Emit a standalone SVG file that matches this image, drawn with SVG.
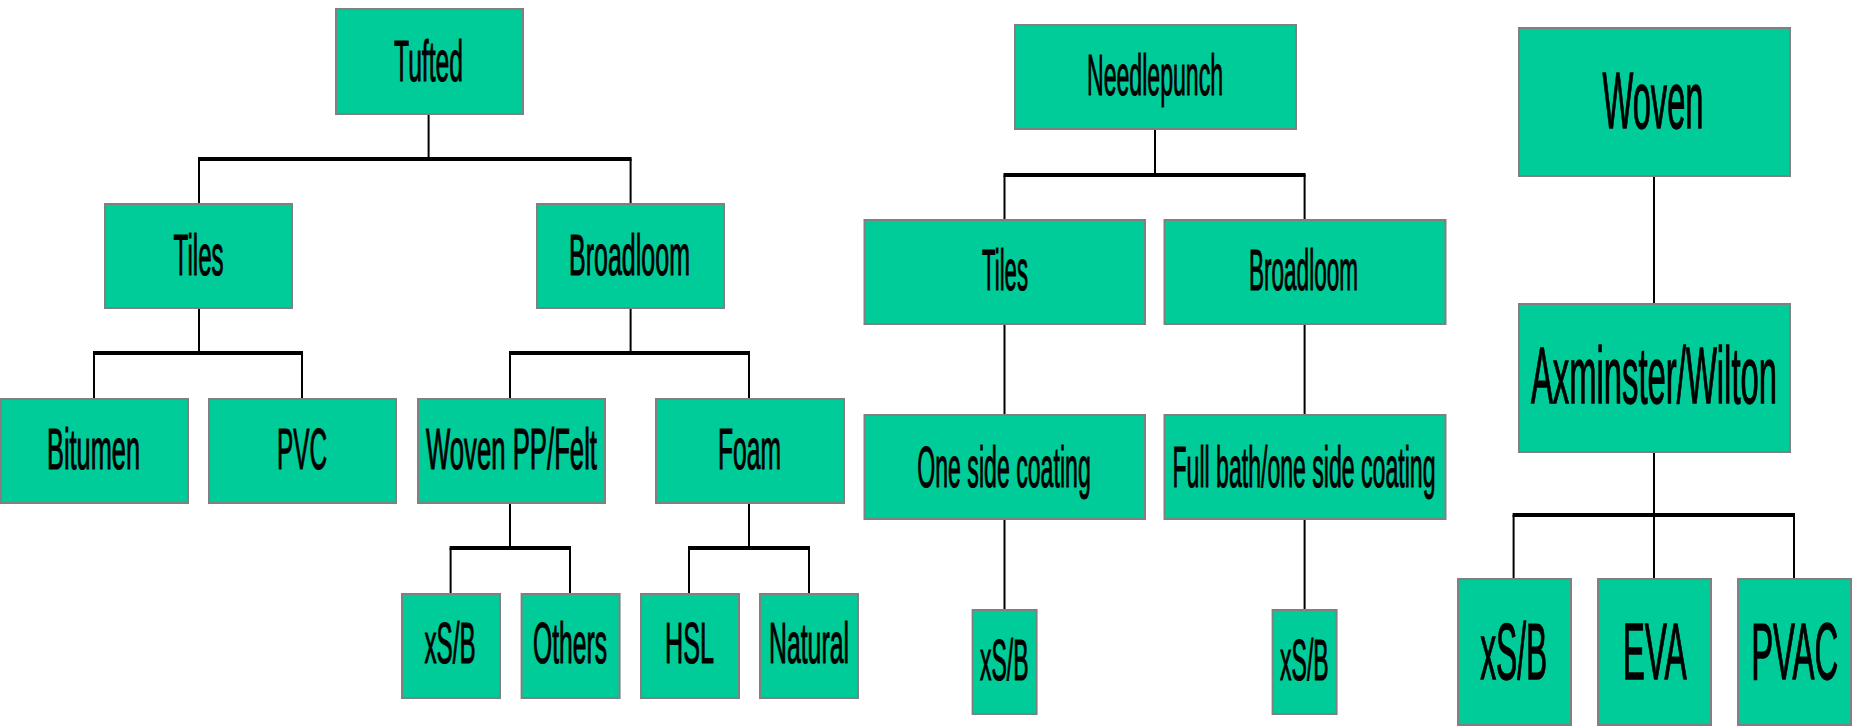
<svg xmlns="http://www.w3.org/2000/svg" width="1855" height="726" viewBox="0 0 1855 726">
<style>
.box{fill:#00CC99;stroke:#808080;stroke-width:2}
.t,.tl{font-family:"Liberation Sans Narrow","Liberation Sans",Arial,sans-serif;fill:#000;stroke:#000;stroke-width:1.1;text-anchor:middle}
.t{font-size:57px}
.tl{font-size:79px;stroke-width:1.3}
.c line{stroke:#000;stroke-width:2}
.c .bar{stroke-width:4}
.bd line{stroke:#808080;stroke-width:2}
</style>
<rect width="1855" height="726" fill="#fff"/>
<g class="c" id="connectors">
<line x1="428.6" y1="115" x2="428.6" y2="159"/>
<line class="bar" x1="198" y1="159" x2="631.6" y2="159"/>
<line x1="199" y1="159" x2="199" y2="203"/>
<line x1="630.6" y1="159" x2="630.6" y2="203"/>
<line x1="199" y1="309" x2="199" y2="353"/>
<line class="bar" x1="93" y1="353" x2="303" y2="353"/>
<line x1="94" y1="353" x2="94" y2="398"/>
<line x1="302" y1="353" x2="302" y2="398"/>
<line x1="630.6" y1="309" x2="630.6" y2="353"/>
<line class="bar" x1="509" y1="353" x2="750" y2="353"/>
<line x1="510" y1="353" x2="510" y2="398"/>
<line x1="749" y1="353" x2="749" y2="398"/>
<line x1="510" y1="504" x2="510" y2="548"/>
<line class="bar" x1="449.6" y1="548" x2="571" y2="548"/>
<line x1="450.6" y1="548" x2="450.6" y2="593"/>
<line x1="570" y1="548" x2="570" y2="593"/>
<line x1="749" y1="504" x2="749" y2="548"/>
<line class="bar" x1="688" y1="548" x2="810" y2="548"/>
<line x1="689" y1="548" x2="689" y2="593"/>
<line x1="809" y1="548" x2="809" y2="593"/>
<line x1="1155" y1="130" x2="1155" y2="175"/>
<line class="bar" x1="1003.5" y1="175" x2="1305.6" y2="175"/>
<line x1="1004.5" y1="175" x2="1004.5" y2="219"/>
<line x1="1304.6" y1="175" x2="1304.6" y2="219"/>
<line x1="1004.5" y1="325" x2="1004.5" y2="414"/>
<line x1="1004.5" y1="520" x2="1004.5" y2="609"/>
<line x1="1304.6" y1="325" x2="1304.6" y2="414"/>
<line x1="1304.6" y1="520" x2="1304.6" y2="609"/>
<line x1="1654" y1="177" x2="1654" y2="303"/>
<line x1="1654" y1="453" x2="1654" y2="515"/>
<line class="bar" x1="1512.6" y1="515" x2="1795" y2="515"/>
<line x1="1513.6" y1="515" x2="1513.6" y2="578"/>
<line x1="1654" y1="515" x2="1654" y2="578"/>
<line x1="1794" y1="515" x2="1794" y2="578"/>
</g>
<g id="tufted"><rect class="box" x="336" y="9" width="187" height="105"/><text class="t" x="428.5" y="80.5" textLength="69" lengthAdjust="spacingAndGlyphs">Tufted</text></g>
<g id="tiles-t"><rect class="box" x="105" y="204" width="187" height="104"/><text class="t" x="198.6" y="275" textLength="50" lengthAdjust="spacingAndGlyphs">Tiles</text></g>
<g id="broadloom-t"><rect class="box" x="537" y="204" width="187" height="104"/><text class="t" x="629.5" y="275" textLength="121" lengthAdjust="spacingAndGlyphs">Broadloom</text></g>
<g id="bitumen"><rect class="box" x="1" y="399" width="187" height="104"/><text class="t" x="93.5" y="469" textLength="93" lengthAdjust="spacingAndGlyphs">Bitumen</text></g>
<g id="pvc"><rect class="box" x="209" y="399" width="187" height="104"/><text class="t" x="302" y="469" textLength="50" lengthAdjust="spacingAndGlyphs">PVC</text></g>
<g id="wovenpp"><rect class="box" x="418" y="399" width="187" height="104"/><text class="t" x="511.5" y="469" textLength="171" lengthAdjust="spacingAndGlyphs">Woven PP/Felt</text></g>
<g id="foam"><rect class="box" x="656" y="399" width="188" height="104"/><text class="t" x="749.5" y="469" textLength="63" lengthAdjust="spacingAndGlyphs">Foam</text></g>
<g id="xsb-1"><rect class="box" x="402" y="594" width="98" height="104"/><text class="t" x="450" y="663" textLength="51" lengthAdjust="spacingAndGlyphs">xS/B</text></g>
<g id="others"><rect class="box" x="521.6" y="594" width="98" height="104"/><text class="t" x="570" y="663" textLength="74" lengthAdjust="spacingAndGlyphs">Others</text></g>
<g id="hsl"><rect class="box" x="641" y="594" width="98" height="104"/><text class="t" x="689.5" y="663" textLength="49" lengthAdjust="spacingAndGlyphs">HSL</text></g>
<g id="natural"><rect class="box" x="760" y="594" width="98" height="104"/><text class="t" x="809" y="663" textLength="80" lengthAdjust="spacingAndGlyphs">Natural</text></g>
<g id="needlepunch"><rect class="box" x="1015" y="25" width="281" height="104"/><text class="t" x="1155" y="95" textLength="136" lengthAdjust="spacingAndGlyphs">Needlepunch</text></g>
<g id="tiles-n"><rect class="box" x="864.5" y="220" width="280.5" height="104"/><text class="t" x="1005" y="290" textLength="46" lengthAdjust="spacingAndGlyphs">Tiles</text></g>
<g id="broadloom-n"><rect class="box" x="1164.5" y="220" width="281" height="104"/><text class="t" x="1303.5" y="290" textLength="109" lengthAdjust="spacingAndGlyphs">Broadloom</text></g>
<g id="onesided"><rect class="box" x="864.5" y="415" width="280.5" height="104"/><text class="t" x="1004" y="487" textLength="173.5" lengthAdjust="spacingAndGlyphs">One side coating</text></g>
<g id="fullbath"><rect class="box" x="1164.5" y="415" width="281" height="104"/><text class="t" x="1304" y="487" textLength="263" lengthAdjust="spacingAndGlyphs">Full bath/one side coating</text></g>
<g id="xsb-2"><rect class="box" x="972.6" y="610" width="64" height="104"/><text class="t" x="1004.3" y="680" textLength="48.6" lengthAdjust="spacingAndGlyphs">xS/B</text></g>
<g id="xsb-3"><rect class="box" x="1272.6" y="610" width="64" height="104"/><text class="t" x="1304.4" y="680" textLength="48.6" lengthAdjust="spacingAndGlyphs">xS/B</text></g>
<g id="woven"><rect class="box" x="1519" y="28" width="271" height="148"/><text class="tl" x="1653" y="128" textLength="101" lengthAdjust="spacingAndGlyphs">Woven</text></g>
<g id="axminster"><rect class="box" x="1519" y="304" width="271" height="148"/><text class="tl" x="1654" y="403" textLength="246" lengthAdjust="spacingAndGlyphs">Axminster/Wilton</text></g>
<g id="xsb-4"><rect class="box" x="1458" y="579" width="113" height="146"/><text class="tl" x="1513.7" y="679" textLength="67" lengthAdjust="spacingAndGlyphs">xS/B</text></g>
<g id="eva"><rect class="box" x="1598" y="579" width="113" height="146"/><text class="tl" x="1654.7" y="679" textLength="64" lengthAdjust="spacingAndGlyphs">EVA</text></g>
<g id="pvac"><rect class="box" x="1738" y="579" width="113" height="146"/><text class="tl" x="1794.7" y="679" textLength="87" lengthAdjust="spacingAndGlyphs">PVAC</text></g>
<g class="bd" id="borders">
<line x1="336" y1="9" x2="523" y2="9"/><line x1="336" y1="114" x2="523" y2="114"/>
<line x1="105" y1="204" x2="292" y2="204"/><line x1="105" y1="308" x2="292" y2="308"/>
<line x1="537" y1="204" x2="724" y2="204"/><line x1="537" y1="308" x2="724" y2="308"/>
<line x1="1" y1="399" x2="188" y2="399"/><line x1="1" y1="503" x2="188" y2="503"/>
<line x1="209" y1="399" x2="396" y2="399"/><line x1="209" y1="503" x2="396" y2="503"/>
<line x1="418" y1="399" x2="605" y2="399"/><line x1="418" y1="503" x2="605" y2="503"/>
<line x1="656" y1="399" x2="844" y2="399"/><line x1="656" y1="503" x2="844" y2="503"/>
<line x1="402" y1="594" x2="500" y2="594"/><line x1="402" y1="698" x2="500" y2="698"/>
<line x1="521.6" y1="594" x2="619.6" y2="594"/><line x1="521.6" y1="698" x2="619.6" y2="698"/>
<line x1="641" y1="594" x2="739" y2="594"/><line x1="641" y1="698" x2="739" y2="698"/>
<line x1="760" y1="594" x2="858" y2="594"/><line x1="760" y1="698" x2="858" y2="698"/>
<line x1="1015" y1="25" x2="1296" y2="25"/><line x1="1015" y1="129" x2="1296" y2="129"/>
<line x1="864.5" y1="220" x2="1145" y2="220"/><line x1="864.5" y1="324" x2="1145" y2="324"/>
<line x1="1164.5" y1="220" x2="1445.5" y2="220"/><line x1="1164.5" y1="324" x2="1445.5" y2="324"/>
<line x1="864.5" y1="415" x2="1145" y2="415"/><line x1="864.5" y1="519" x2="1145" y2="519"/>
<line x1="1164.5" y1="415" x2="1445.5" y2="415"/><line x1="1164.5" y1="519" x2="1445.5" y2="519"/>
<line x1="972.6" y1="610" x2="1036.6" y2="610"/><line x1="972.6" y1="714" x2="1036.6" y2="714"/>
<line x1="1272.6" y1="610" x2="1336.6" y2="610"/><line x1="1272.6" y1="714" x2="1336.6" y2="714"/>
<line x1="1519" y1="28" x2="1790" y2="28"/><line x1="1519" y1="176" x2="1790" y2="176"/>
<line x1="1519" y1="304" x2="1790" y2="304"/><line x1="1519" y1="452" x2="1790" y2="452"/>
<line x1="1458" y1="579" x2="1571" y2="579"/><line x1="1458" y1="725" x2="1571" y2="725"/>
<line x1="1598" y1="579" x2="1711" y2="579"/><line x1="1598" y1="725" x2="1711" y2="725"/>
<line x1="1738" y1="579" x2="1851" y2="579"/><line x1="1738" y1="725" x2="1851" y2="725"/>
</g>
</svg>
